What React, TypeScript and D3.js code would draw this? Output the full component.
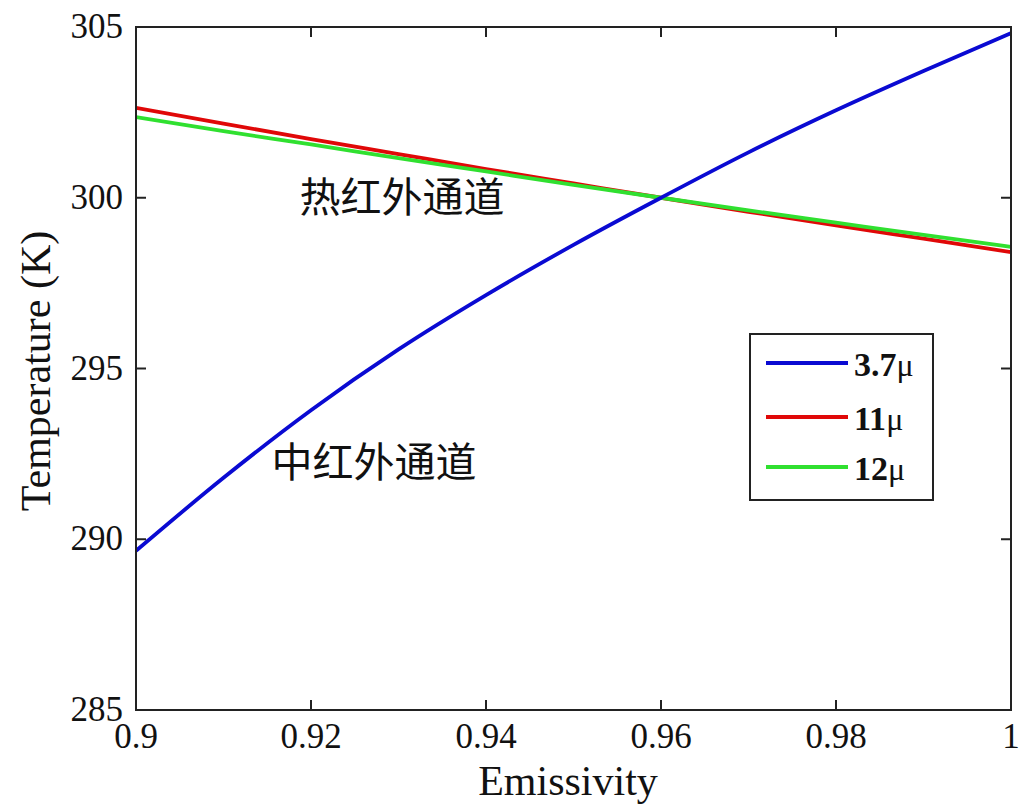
import React from "react";
import * as d3 from "d3";

const emissivity = [0.9, 0.91, 0.92, 0.93, 0.94, 0.95, 0.96, 0.97, 0.98, 0.99, 1.0];
const temp37 = [289.66, 291.8, 293.78, 295.56, 297.15, 298.62, 300.0, 301.33, 302.56, 303.71, 304.82];
const temp11 = [302.63, 302.17, 301.72, 301.28, 300.84, 300.42, 300.0, 299.59, 299.19, 298.8, 298.41];
const temp12 = [302.36, 301.95, 301.56, 301.16, 300.77, 300.38, 300.0, 299.63, 299.27, 298.91, 298.56];
const xTicks = [0.9, 0.92, 0.94, 0.96, 0.98, 1.0];
const xTickLabels = ["0.9", "0.92", "0.94", "0.96", "0.98", "1"];
const yTicks = [285, 290, 295, 300, 305];
const seriesNames = ["3.7", "11", "12"];
const seriesColors = ["#0a0ad2", "#e00808", "#30e030"];

const W = 1021, H = 806;
const L = 136, R = 1011, T = 27, B = 710;
const serif = "'Liberation Serif', 'Times New Roman', serif";
const cjk = "'Noto Sans CJK SC', sans-serif";

export default function App() {
  const x = d3.scaleLinear().domain([0.9, 1.0]).range([L, R]);
  const y = d3.scaleLinear().domain([285, 305]).range([B, T]);
  const line = d3
    .line<[number, number]>()
    .x((d) => x(d[0]))
    .y((d) => y(d[1]))
    .curve(d3.curveMonotoneX);
  const series = [temp37, temp11, temp12];
  const tick = 10;
  return (
    <svg
      width={W}
      height={H}
      style={{ position: "absolute", left: 0, top: 0, background: "#fff" }}
    >
      <rect x={0} y={0} width={W} height={H} fill="#fff" />
      <defs>
        <clipPath id="plot">
          <rect x={L} y={T} width={R - L} height={B - T} />
        </clipPath>
      </defs>
      <g clipPath="url(#plot)">
        {[1, 2, 0].map((i) => (
          <path
            key={i}
            d={line(emissivity.map((e, k) => [e, series[i][k]] as [number, number])) || ""}
            fill="none"
            stroke={seriesColors[i]}
            strokeWidth={3.8}
          />
        ))}
      </g>
      {/* frame */}
      <rect x={L} y={T} width={R - L} height={B - T} fill="none" stroke="#222" strokeWidth={2} />
      {/* x ticks */}
      {xTicks.map((t, i) => (
        <g key={"xt" + i}>
          <line x1={x(t)} x2={x(t)} y1={B} y2={B - tick} stroke="#222" strokeWidth={2} />
          <line x1={x(t)} x2={x(t)} y1={T} y2={T + tick} stroke="#222" strokeWidth={2} />
          <text
            x={x(t)}
            y={748}
            textAnchor="middle"
            fontFamily={serif}
            fontSize={35}
            fill="#111"
          >
            {xTickLabels[i]}
          </text>
        </g>
      ))}
      {/* y ticks */}
      {yTicks.map((t, i) => (
        <g key={"yt" + i}>
          <line x1={L} x2={L + tick} y1={y(t)} y2={y(t)} stroke="#222" strokeWidth={2} />
          <line x1={R} x2={R - tick} y1={y(t)} y2={y(t)} stroke="#222" strokeWidth={2} />
          <text
            x={123}
            y={y(t) + 11}
            textAnchor="end"
            fontFamily={serif}
            fontSize={35}
            fill="#111"
          >
            {t}
          </text>
        </g>
      ))}
      {/* axis labels */}
      <text x={568} y={795} textAnchor="middle" fontFamily={serif} fontSize={42} fill="#111">
        Emissivity
      </text>
      <text
        transform={`translate(50, ${371}) rotate(-90)`}
        textAnchor="middle"
        fontFamily={serif}
        fontSize={42}
        fill="#111"
      >
        Temperature (K)
      </text>
      {/* annotations */}
      <text x={402} y={194} textAnchor="middle" dominantBaseline="central" fontFamily={cjk} fontSize={41} fill="#111">
        热红外通道
      </text>
      <text x={374} y={459} textAnchor="middle" dominantBaseline="central" fontFamily={cjk} fontSize={41} fill="#111">
        中红外通道
      </text>
      {/* legend */}
      <rect x={750} y={334} width={183} height={166} fill="#fff" stroke="#222" strokeWidth={2} />
      {seriesNames.map((n, i) => {
        const ly = [363, 417, 467][i];
        return (
          <g key={"lg" + i}>
            <line x1={766} x2={848} y1={ly} y2={ly} stroke={seriesColors[i]} strokeWidth={3.8} />
            <text x={854} y={ly + 13} fontFamily={serif} fontSize={34} fill="#111">
              <tspan fontWeight="bold">{n}</tspan>
              <tspan fontSize={32}>μ</tspan>
            </text>
          </g>
        );
      })}
    </svg>
  );
}
